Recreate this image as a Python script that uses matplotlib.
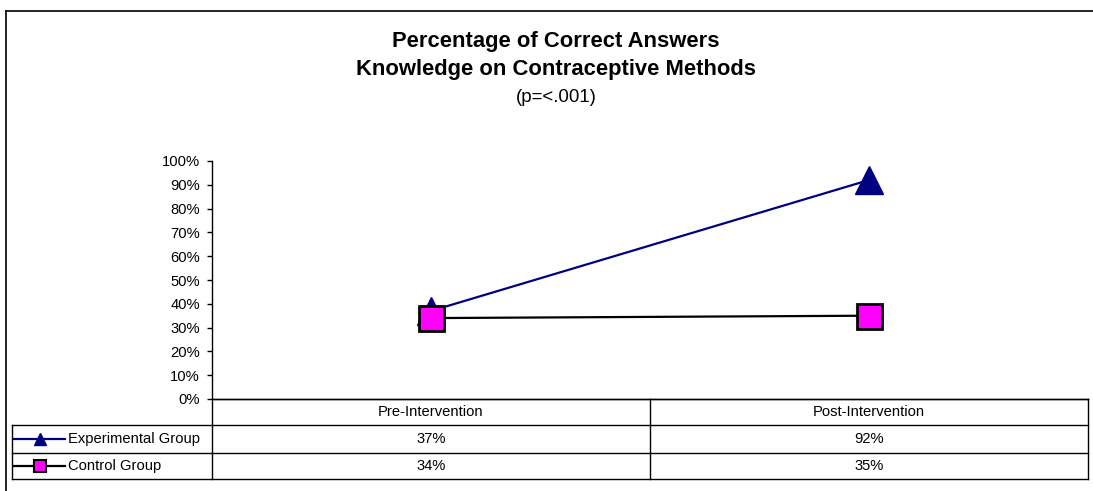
import matplotlib.pyplot as plt
from matplotlib.lines import Line2D

plt.rcParams["font.family"] = ["Liberation Sans", "DejaVu Sans"]

categories = ["Pre-Intervention", "Post-Intervention"]
series_names = ["Experimental Group", "Control Group"]
experimental = [37, 92]
control = [34, 35]
yticks = [0, 10, 20, 30, 40, 50, 60, 70, 80, 90, 100]

W, H = 1093, 491
FS = 10.6  # body text size


def fx(px):
    return px / W


def fy(py):
    return 1 - py / H


fig = plt.figure(figsize=(W / 100, H / 100), dpi=100)

# outer frame (top and left only visible)
fig.add_artist(Line2D([fx(6), 1], [fy(11), fy(11)], color="black", lw=1.2))
fig.add_artist(Line2D([fx(6), fx(6)], [fy(11), 0], color="black", lw=1.2))

# titles
tx = fx(556)
fig.text(tx, fy(41), "Percentage of Correct Answers", ha="center", va="center",
         fontsize=15.8, fontweight="bold")
fig.text(tx, fy(70), "Knowledge on Contraceptive Methods", ha="center", va="center",
         fontsize=15.8, fontweight="bold")
fig.text(tx, fy(97), "(p=<.001)", ha="center", va="center", fontsize=13.4)

ax = fig.add_axes([fx(212), fy(399), fx(1088) - fx(212), fy(161) - fy(399)])
x = list(range(len(categories)))
ax.plot(x, experimental, color="#000080", lw=1.6, marker="^", markersize=20,
        markerfacecolor="#000080", markeredgecolor="#000080", zorder=3, clip_on=False)
ax.plot(x, control, color="black", lw=1.6, marker="s", markersize=18,
        markerfacecolor="#FF00FF", markeredgecolor="black", markeredgewidth=2,
        zorder=4, clip_on=False)
ax.set_xlim(-0.5, len(categories) - 0.5)
ax.set_ylim(0, 100)
ax.set_yticks(yticks)
ax.set_yticklabels([f"{v}%" for v in yticks], fontsize=FS)
ax.set_xticks([])
for s in ["top", "right"]:
    ax.spines[s].set_visible(False)
ax.spines["left"].set_linewidth(1)
ax.spines["bottom"].set_linewidth(1)
ax.tick_params(axis="y", direction="out", length=3.8, width=1, pad=5)

# data table below the axes
rows_y = [399, 425, 453, 479]
col_x = [12, 212, 650, 1088]
lw = 1.0
for i, yy in enumerate(rows_y):
    x0 = col_x[1] if i == 0 else col_x[0]
    fig.add_artist(Line2D([fx(x0), fx(col_x[-1])], [fy(yy), fy(yy)], color="black", lw=lw))
for i, xx in enumerate(col_x):
    y0 = rows_y[1] if i == 0 else rows_y[0]
    fig.add_artist(Line2D([fx(xx), fx(xx)], [fy(y0), fy(rows_y[-1])], color="black", lw=lw))

for j, cat in enumerate(categories):
    cx = (col_x[j + 1] + col_x[j + 2]) / 2
    fig.text(fx(cx), fy((rows_y[0] + rows_y[1]) / 2), cat, ha="center", va="center", fontsize=FS)

line_colors = ["#000080", "black"]
marker_styles = [
    dict(marker="^", markersize=9, markerfacecolor="#000080", markeredgecolor="#000080"),
    dict(marker="s", markersize=8, markerfacecolor="#FF00FF", markeredgecolor="black",
         markeredgewidth=1.5),
]
for i, (name, vals) in enumerate(zip(series_names, [experimental, control])):
    cy = (rows_y[i + 1] + rows_y[i + 2]) / 2
    fig.add_artist(Line2D([fx(14), fx(65)], [fy(cy), fy(cy)], lw=1.6, color=line_colors[i]))
    fig.add_artist(Line2D([fx(40)], [fy(cy)], lw=0, **marker_styles[i]))
    fig.text(fx(68), fy(cy), name, ha="left", va="center", fontsize=FS)
    for j, v in enumerate(vals):
        cx = (col_x[j + 1] + col_x[j + 2]) / 2
        fig.text(fx(cx), fy(cy), f"{v}%", ha="center", va="center", fontsize=FS)

fig.savefig("out.png", dpi=100, facecolor="white")
